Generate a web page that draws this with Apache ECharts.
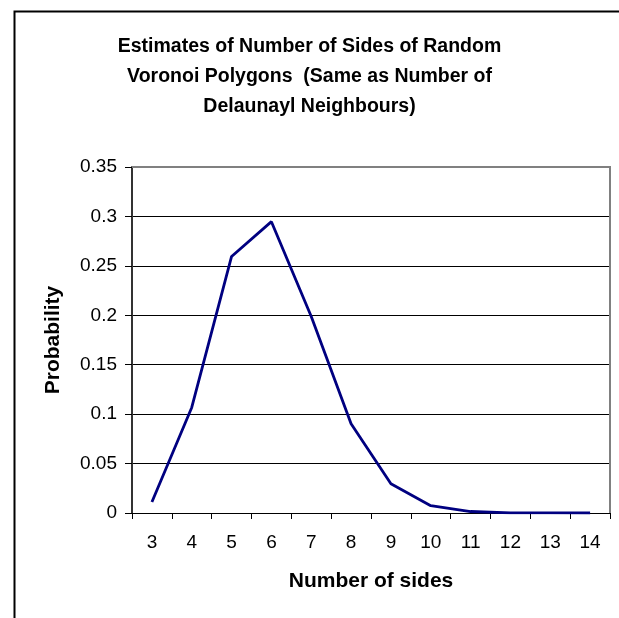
<!DOCTYPE html>
<html>
<head>
<meta charset="utf-8">
<script src="https://cdn.jsdelivr.net/npm/echarts@6/dist/echarts.min.js"></script>
<style>
html,body{margin:0;padding:0;background:#fff;}
#c{width:619px;height:618px;}
</style>
</head>
<body>
<div id="c"></div>
<script>
const titleLines = ["Estimates of Number of Sides of Random", "Voronoi Polygons  (Same as Number of", "Delaunayl Neighbours)"];
const categories = ["3","4","5","6","7","8","9","10","11","12","13","14"];
const probability = [0.0112, 0.1068, 0.2595, 0.2947, 0.1988, 0.0902, 0.0295, 0.0074, 0.0015, 0.0002, 0.00003, 0.000004];
const yTicks = {min: 0, max: 0.35, interval: 0.05};
const xName = "Number of sides";
const yName = "Probability";

const G = {left: 132, top: 167, right: 610, bottom: 513};
const chart = echarts.init(document.getElementById('c'), null, {renderer: 'canvas'});
const font = 'Liberation Sans, Arial, sans-serif';
chart.setOption({
  animation: false,
  backgroundColor: '#fff',
  title: {
    text: titleLines.join('\n'),
    left: 'center',
    top: 27,
    textStyle: {fontFamily: font, fontSize: 19.5, fontWeight: 'bold', color: '#000', lineHeight: 30}
  },
  graphic: [{
    type: 'rect', left: 12, top: 9, shape: {width: 700, height: 700},
    style: {fill: null, stroke: '#000', lineWidth: 2}, z: 100
  }, {
    type: 'polyline', shape: {points: [[G.left, G.top], [G.right, G.top], [G.right, G.bottom]]},
    style: {fill: null, stroke: '#808080', lineWidth: 2}, z: 100
  }],
  grid: {left: G.left, right: 619 - G.right, top: G.top, bottom: 618 - G.bottom, show: false},
  xAxis: {
    type: 'category', data: categories, boundaryGap: true,
    name: xName, nameLocation: 'middle', nameGap: 58,
    nameTextStyle: {fontFamily: font, fontSize: 21, fontWeight: 'bold', color: '#000'},
    axisLine: {lineStyle: {color: '#000', width: 1}},
    axisTick: {show: true, alignWithLabel: false, length: 6, lineStyle: {color: '#000'}},
    axisLabel: {fontFamily: font, fontSize: 19, color: '#000', margin: 20, interval: 0},
    splitLine: {show: false}
  },
  yAxis: {
    type: 'value', min: yTicks.min, max: yTicks.max, interval: yTicks.interval,
    name: yName, nameLocation: 'middle', nameGap: 68, nameRotate: 90,
    nameTextStyle: {fontFamily: font, fontSize: 21, fontWeight: 'bold', color: '#000'},
    axisLine: {show: true, lineStyle: {color: '#333', width: 2}},
    axisTick: {show: true, length: 7, lineStyle: {color: '#000'}},
    axisLabel: {fontFamily: font, fontSize: 19, color: '#000', margin: 15},
    splitLine: {show: true, lineStyle: {color: '#000', width: 1}}
  },
  series: [{
    type: 'line', data: probability, symbol: 'none',
    lineStyle: {color: '#000080', width: 2.8}
  }]
});
</script>
</body>
</html>
